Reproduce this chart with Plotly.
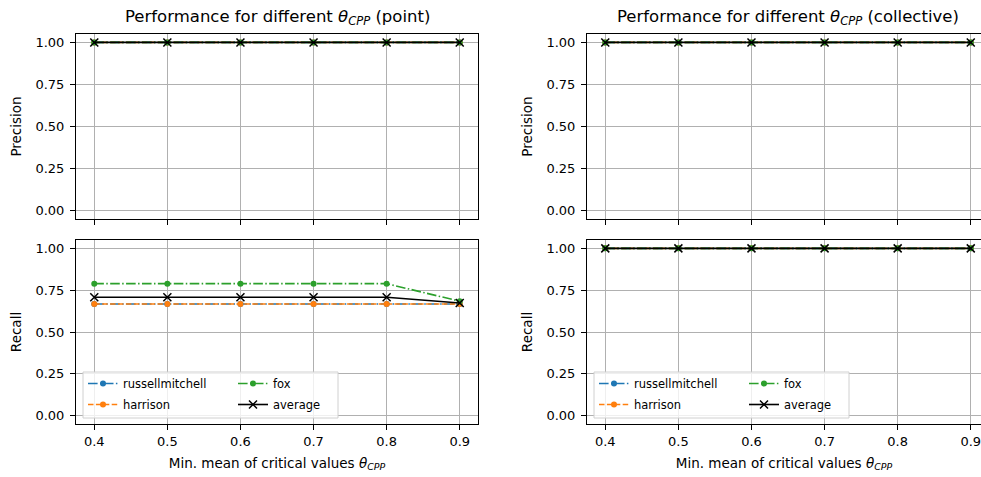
import plotly.graph_objects as go

thresholds = [0.4, 0.5, 0.6, 0.7, 0.8, 0.9]
series_names = ["russellmitchell", "harrison", "fox", "average"]

# point
point_precision_russellmitchell = [1.0, 1.0, 1.0, 1.0, 1.0, 1.0]
point_precision_harrison = [1.0, 1.0, 1.0, 1.0, 1.0, 1.0]
point_precision_fox = [1.0, 1.0, 1.0, 1.0, 1.0, 1.0]
point_precision_average = [1.0, 1.0, 1.0, 1.0, 1.0, 1.0]
point_recall_russellmitchell = [0.667, 0.667, 0.667, 0.667, 0.667, 0.667]
point_recall_harrison = [0.667, 0.667, 0.667, 0.667, 0.667, 0.667]
point_recall_fox = [0.789, 0.789, 0.789, 0.789, 0.789, 0.684]
point_recall_average = [0.708, 0.708, 0.708, 0.708, 0.708, 0.673]

# collective
coll_precision_russellmitchell = [1.0, 1.0, 1.0, 1.0, 1.0, 1.0]
coll_precision_harrison = [1.0, 1.0, 1.0, 1.0, 1.0, 1.0]
coll_precision_fox = [1.0, 1.0, 1.0, 1.0, 1.0, 1.0]
coll_precision_average = [1.0, 1.0, 1.0, 1.0, 1.0, 1.0]
coll_recall_russellmitchell = [1.0, 1.0, 1.0, 1.0, 1.0, 1.0]
coll_recall_harrison = [1.0, 1.0, 1.0, 1.0, 1.0, 1.0]
coll_recall_fox = [1.0, 1.0, 1.0, 1.0, 1.0, 1.0]
coll_recall_average = [1.0, 1.0, 1.0, 1.0, 1.0, 1.0]

y_ticks = [0.0, 0.25, 0.5, 0.75, 1.0]
y_tick_labels = ["0.00", "0.25", "0.50", "0.75", "1.00"]
x_tick_labels = ["0.4", "0.5", "0.6", "0.7", "0.8", "0.9"]

W, H = 981, 477
FONT = "DejaVu Sans"

styles = {
    "russellmitchell": dict(color="#1f77b4", dash="9.6px,2.4px,1.5px,2.4px", symbol="circle"),
    "harrison": dict(color="#ff7f0e", dash="5.5px,2.4px", symbol="circle"),
    "fox": dict(color="#2ca02c", dash="9.6px,2.4px,1.5px,2.4px", symbol="circle"),
    "average": dict(color="#000000", dash="solid", symbol="x-thin"),
}

panels = [
    ("x", "y", {"russellmitchell": point_precision_russellmitchell, "harrison": point_precision_harrison,
                "fox": point_precision_fox, "average": point_precision_average}, None),
    ("x2", "y2", {"russellmitchell": point_recall_russellmitchell, "harrison": point_recall_harrison,
                  "fox": point_recall_fox, "average": point_recall_average}, ("legend", "legend2")),
    ("x3", "y3", {"russellmitchell": coll_precision_russellmitchell, "harrison": coll_precision_harrison,
                  "fox": coll_precision_fox, "average": coll_precision_average}, None),
    ("x4", "y4", {"russellmitchell": coll_recall_russellmitchell, "harrison": coll_recall_harrison,
                  "fox": coll_recall_fox, "average": coll_recall_average}, ("legend3", "legend4")),
]

fig = go.Figure()
for pi, (xa, ya, data, legs) in enumerate(panels):
    for name in series_names:
        st = styles[name]
        if st["symbol"] == "x-thin":
            marker = dict(symbol="x-thin", size=8, color=st["color"], line=dict(width=1.5, color=st["color"]))
        else:
            marker = dict(symbol="circle", size=6, color=st["color"], line=dict(width=0))
        kw = {}
        if legs is not None:
            kw["legend"] = legs[0] if name in ("russellmitchell", "harrison") else legs[1]
        fig.add_trace(go.Scatter(
            x=thresholds, y=data[name], name=name, mode="lines+markers",
            line=dict(color=st["color"], width=1.6, dash=st["dash"]),
            marker=marker, xaxis=xa, yaxis=ya, legendgroup=f"{name}_{pi}",
            showlegend=legs is not None, **kw))

# layout geometry (pixels)
L_x0, L_x1 = 76, 478
R_x0, R_x1 = 587, 981
T_y0, T_y1 = 34, 219
B_y0, B_y1 = 240, 424

def px_x(p):
    return p / W

def px_y(p):
    return 1 - p / H

common_x = dict(
    tickvals=thresholds, ticktext=x_tick_labels, showgrid=True, gridcolor="#b0b0b0", gridwidth=0.8,
    zeroline=False, showline=True, linecolor="black", linewidth=1, ticks="outside", ticklen=5,
    tickcolor="black", tickfont=dict(family=FONT, size=13, color="black"), mirror=True,
    ticklabeloverflow="allow",
)
common_y = dict(
    range=[-0.05, 1.05], tickvals=y_ticks, ticktext=y_tick_labels, showgrid=True, gridcolor="#b0b0b0",
    gridwidth=0.8, zeroline=False, showline=True, linecolor="black", linewidth=1, ticks="outside",
    ticklen=5, tickcolor="black", tickfont=dict(family=FONT, size=13, color="black"),
    ticklabelstandoff=3,
)

left_range = [0.375, 0.925]
right_range = [0.375, 0.9 + (R_x1 - (R_x0 + 0.025 * 731 + 0.5 * 731)) / 731]

xlabel = "Min. mean of critical values <i>θ</i><sub><i>CPP</i></sub>"
tfont = dict(family=FONT, size=13.5, color="black")
fig.update_layout(
    width=W, height=H, margin=dict(l=0, r=0, t=0, b=0),
    paper_bgcolor="white", plot_bgcolor="white",
    font=dict(family=FONT, color="black"),
    xaxis=dict(common_x, domain=[px_x(L_x0), px_x(L_x1)], range=left_range, anchor="y", showticklabels=False),
    yaxis=dict(common_y, domain=[px_y(T_y1), px_y(T_y0)], anchor="x", mirror=True,
               title=dict(text="Precision", font=tfont, standoff=10)),
    xaxis2=dict(common_x, domain=[px_x(L_x0), px_x(L_x1)], range=left_range, anchor="y2",
                title=dict(text=xlabel, font=tfont, standoff=10)),
    yaxis2=dict(common_y, domain=[px_y(B_y1), px_y(B_y0)], anchor="x2", mirror=True,
                title=dict(text="Recall", font=tfont, standoff=10)),
    xaxis3=dict(common_x, domain=[px_x(R_x0), 1.0], range=right_range, anchor="y3", showticklabels=False),
    yaxis3=dict(common_y, domain=[px_y(T_y1), px_y(T_y0)], anchor="x3", mirror=False,
                title=dict(text="Precision", font=tfont, standoff=10)),
    xaxis4=dict(common_x, domain=[px_x(R_x0), 1.0], range=right_range, anchor="y4",
                title=dict(text=xlabel, font=tfont, standoff=10)),
    yaxis4=dict(common_y, domain=[px_y(B_y1), px_y(B_y0)], anchor="x4", mirror=False,
                title=dict(text="Recall", font=tfont, standoff=10)),
)

leg_common = dict(bgcolor="rgba(0,0,0,0)", borderwidth=0, font=dict(family=FONT, size=11.5, color="black"),
                  xanchor="left", yanchor="top", orientation="v", itemwidth=30, tracegroupgap=2)
leg_top = 369
fig.update_layout(
    legend=dict(leg_common, x=px_x(83), y=px_y(leg_top)),
    legend2=dict(leg_common, x=px_x(233), y=px_y(leg_top)),
    legend3=dict(leg_common, x=px_x(83 + 511), y=px_y(leg_top)),
    legend4=dict(leg_common, x=px_x(233 + 511), y=px_y(leg_top)),
)

# legend frames
for dx in (0, 511):
    fig.add_shape(type="rect", xref="paper", yref="paper",
                  x0=px_x(83 + dx), x1=px_x(338 + dx), y0=px_y(418), y1=px_y(372),
                  line=dict(color="#d0d0d0", width=1), fillcolor="rgba(255,255,255,0.8)", layer="above")

# titles
fig.add_annotation(text="Performance for different <i>θ</i><sub><i>CPP</i></sub> (point)", x=px_x(277), y=px_y(18),
                   xref="paper", yref="paper", showarrow=False, xanchor="center", yanchor="middle",
                   font=dict(family=FONT, size=16.5, color="black"))
fig.add_annotation(text="Performance for different <i>θ</i><sub><i>CPP</i></sub> (collective)", x=px_x(787.5), y=px_y(18),
                   xref="paper", yref="paper", showarrow=False, xanchor="center", yanchor="middle",
                   font=dict(family=FONT, size=16.5, color="black"))

fig.write_html("out.html")
